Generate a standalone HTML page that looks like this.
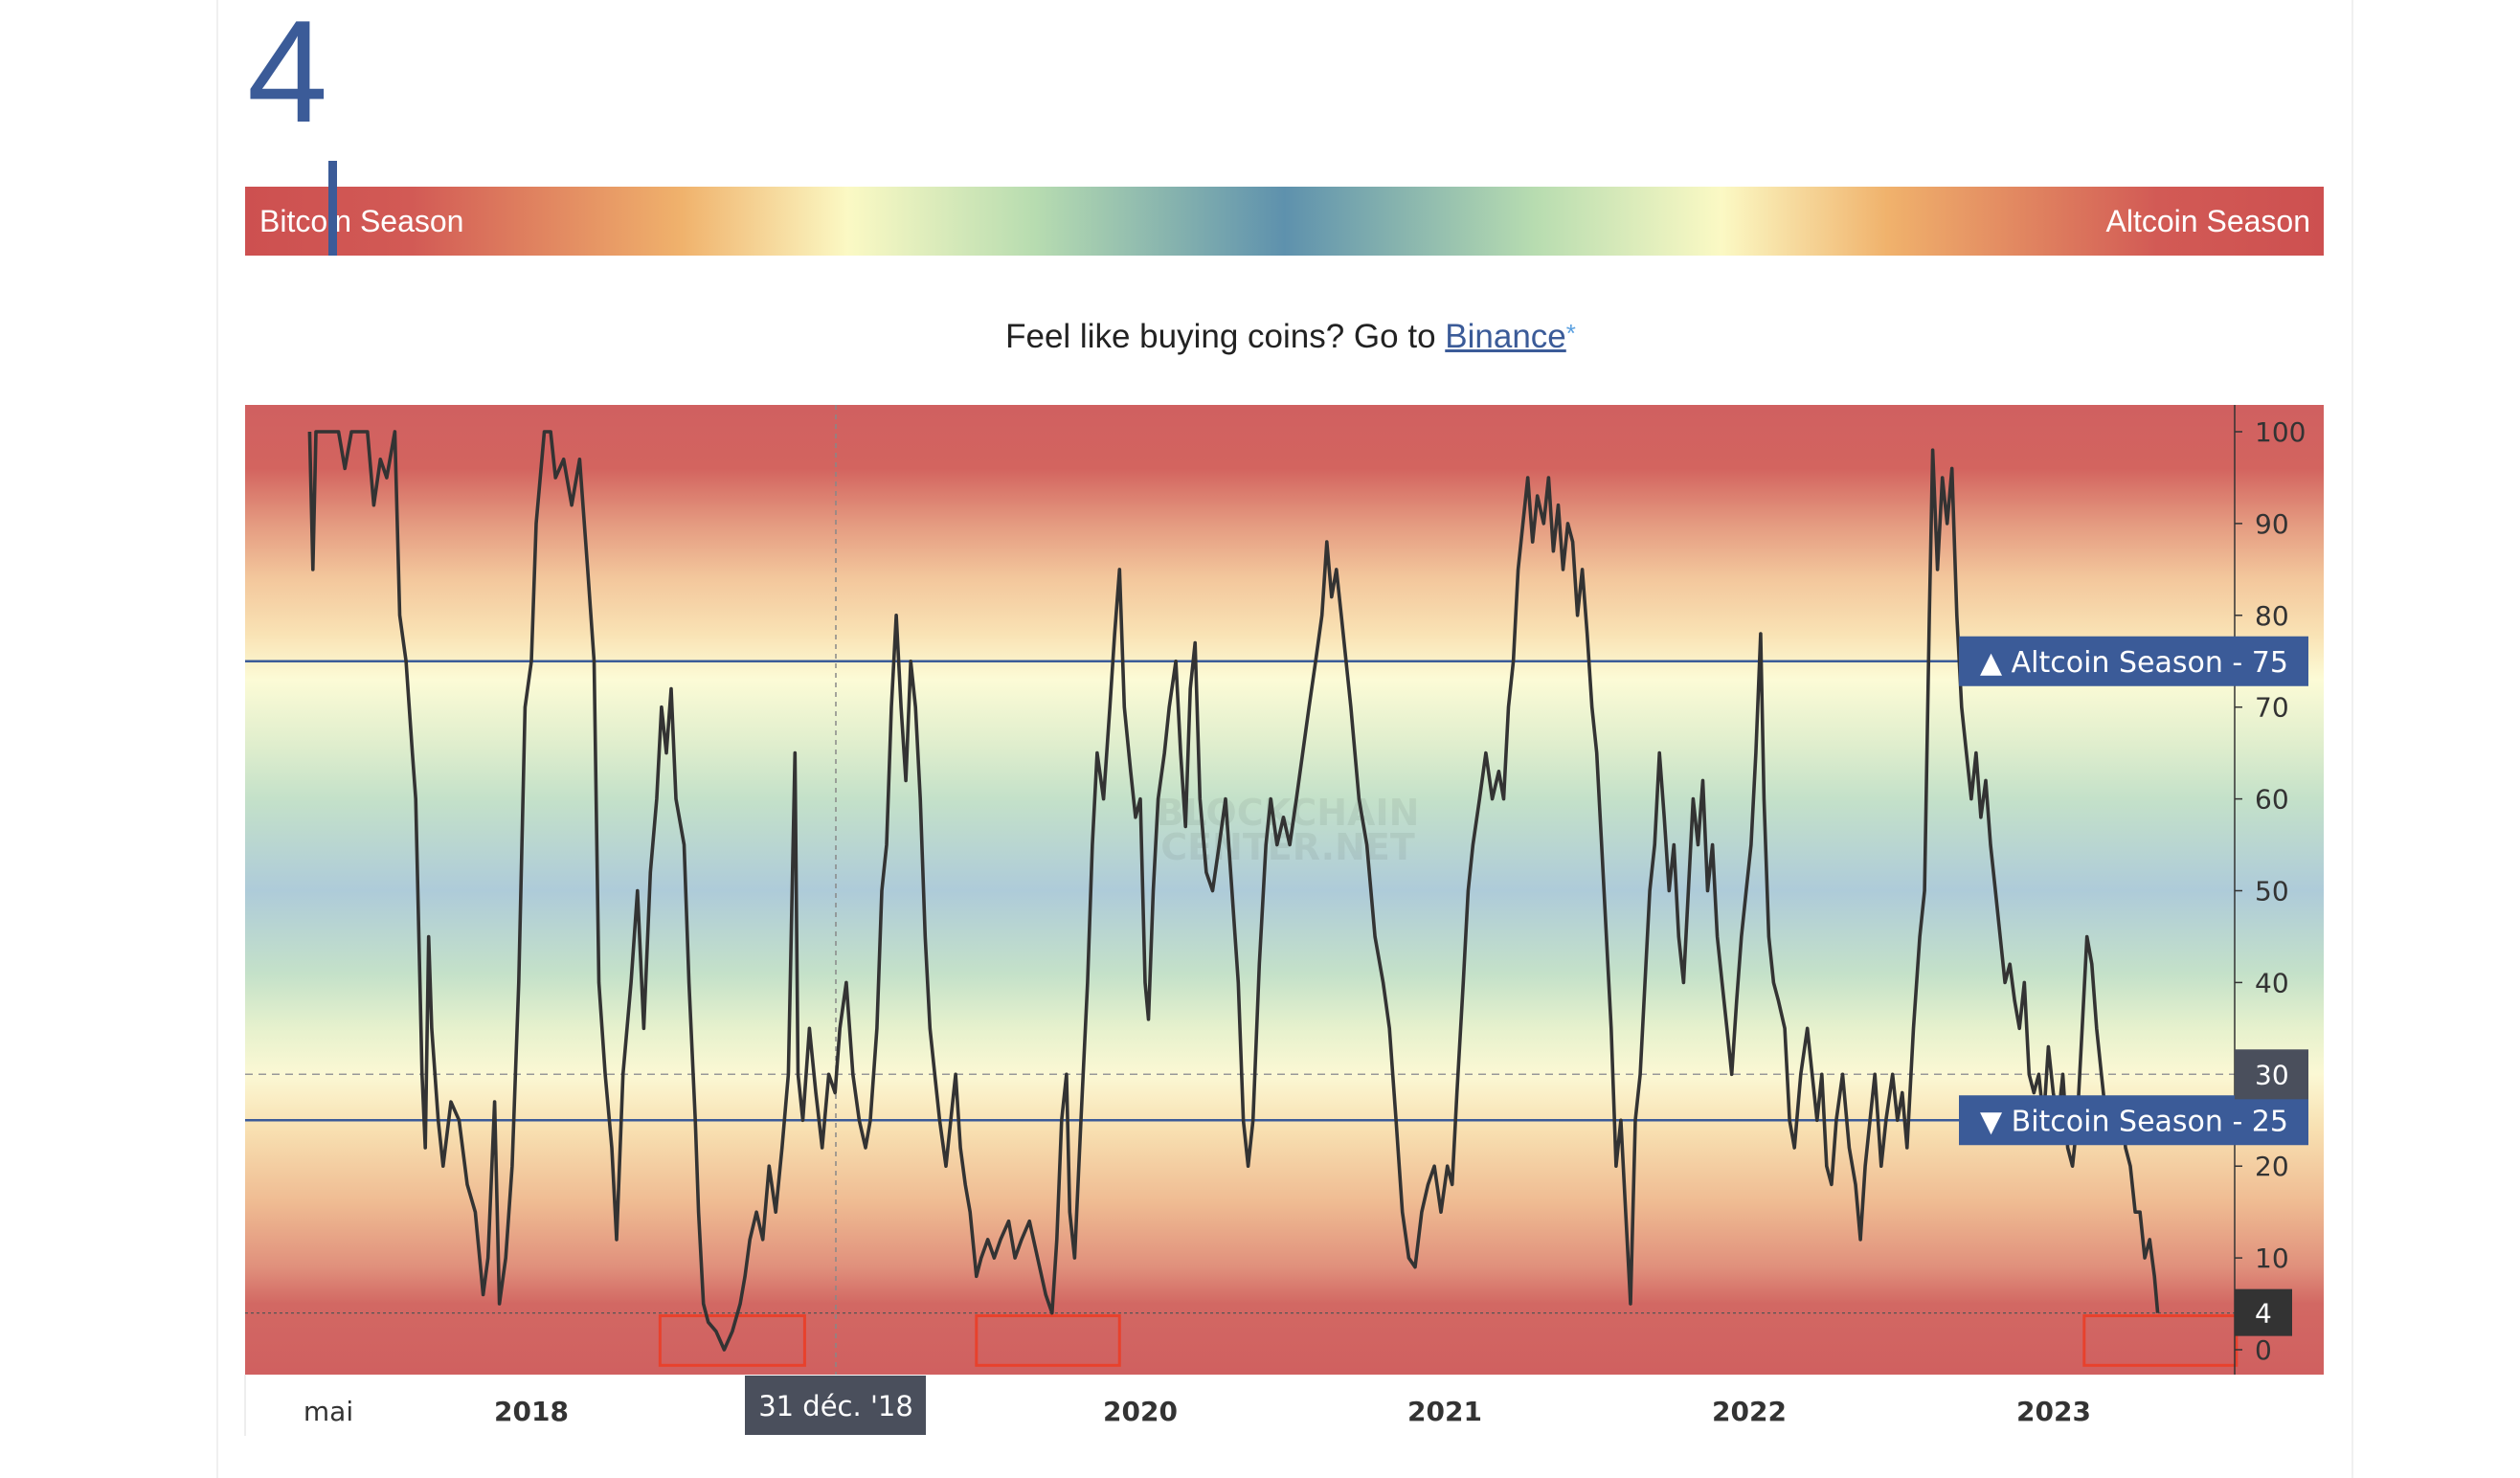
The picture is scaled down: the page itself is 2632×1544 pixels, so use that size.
<!DOCTYPE html>
<html><head><meta charset="utf-8">
<style>
html,body{margin:0;padding:0;background:#fff;}
body{width:2632px;height:1544px;position:relative;overflow:hidden;font-family:"Liberation Sans",sans-serif;}
.edge{position:absolute;top:0;width:2px;height:1544px;background:#f0f0f0;}
#big{position:absolute;left:258px;top:-1px;font-size:152px;color:#3b5b98;line-height:1;}
#bar{position:absolute;left:256px;top:195px;width:2171px;height:72px;
background:linear-gradient(to right,#cd5050 0%,#d25a55 8%,#f0b26c 21%,#fbf9c4 29%,#b7dcb0 38%,#5e91ad 50%,#b7dcb0 62%,#fbf9c4 71%,#f0b26c 79%,#d25a55 92%,#cd5050 100%);}
#bar span{position:absolute;top:18px;color:#fff;font-size:32px;}
#marker{position:absolute;left:343px;top:168px;width:9px;height:99px;background:#3b5b98;}
#promo{position:absolute;left:0;width:2696px;top:332px;text-align:center;font-size:35px;color:#222;}
#promo a{color:#3b5b98;text-decoration:underline;}
#promo sup{color:#5aa0e0;font-size:26px;vertical-align:6px;}
svg{position:absolute;left:0;top:0;}
</style></head>
<body>
<div class="edge" style="left:226px"></div>
<div class="edge" style="left:2456px"></div>
<div id="big">4</div>
<div id="bar">
  <span style="left:15px">Bitcoin Season</span>
  <span style="right:14px">Altcoin Season</span>
</div>
<div id="marker"></div>
<div id="promo">Feel like buying coins? Go to <a>Binance</a><sup>*</sup></div>

<svg id="chart" width="2632" height="1544"></svg>

<script>
// months since Jan 2017
const months=[3.26,3.39,3.51,4.40,4.65,4.91,5.54,5.79,6.05,6.30,6.62,6.81,7.06,7.31,7.44,7.69,7.82,7.95,8.07,8.33,8.52,8.83,9.15,9.47,9.79,10.10,10.29,10.55,10.74,10.99,11.24,11.50,11.75,12.00,12.19,12.51,12.76,12.95,13.27,13.59,13.90,14.22,14.47,14.66,14.91,15.17,15.36,15.61,15.93,16.18,16.43,16.69,16.94,17.13,17.32,17.51,17.70,18.02,18.21,18.46,18.59,18.78,18.97,19.28,19.60,19.92,20.23,20.42,20.61,20.87,21.12,21.37,21.63,21.88,22.13,22.39,22.51,22.70,22.96,23.21,23.46,23.72,23.97,24.16,24.41,24.67,24.92,25.17,25.36,25.62,25.81,26.00,26.19,26.38,26.57,26.76,26.95,27.14,27.33,27.52,27.71,27.90,28.09,28.34,28.53,28.72,28.91,29.10,29.29,29.54,29.73,29.99,30.24,30.49,30.81,31.06,31.32,31.63,31.95,32.27,32.52,32.71,32.90,33.09,33.22,33.41,33.66,33.92,34.11,34.30,34.55,34.80,34.99,35.18,35.37,35.62,35.81,36.00,36.19,36.32,36.51,36.70,36.95,37.14,37.40,37.59,37.78,37.97,38.16,38.35,38.60,38.85,39.11,39.36,39.61,39.86,40.06,40.25,40.44,40.69,40.95,41.14,41.39,41.64,41.89,42.15,42.40,42.65,42.91,43.16,43.35,43.54,43.73,43.92,44.11,44.30,44.62,44.93,45.25,45.57,45.82,46.08,46.33,46.58,46.83,47.09,47.34,47.59,47.85,48.10,48.29,48.48,48.73,48.92,49.11,49.37,49.62,49.87,50.13,50.32,50.51,50.70,50.89,51.08,51.27,51.46,51.65,51.90,52.09,52.28,52.47,52.66,52.85,53.04,53.23,53.42,53.61,53.80,53.99,54.18,54.37,54.56,54.75,54.94,55.13,55.32,55.51,55.70,55.89,56.08,56.27,56.46,56.65,56.84,57.03,57.22,57.41,57.60,57.79,57.98,58.17,58.36,58.55,58.74,58.93,59.12,59.31,59.50,59.69,59.88,60.07,60.26,60.45,60.58,60.77,60.96,61.15,61.40,61.59,61.78,62.03,62.29,62.48,62.67,62.86,63.05,63.24,63.43,63.68,63.94,64.19,64.38,64.57,64.76,64.95,65.20,65.39,65.65,65.84,66.03,66.22,66.47,66.72,66.91,67.10,67.23,67.42,67.61,67.80,67.99,68.18,68.37,68.56,68.75,68.94,69.13,69.32,69.51,69.70,69.89,70.08,70.27,70.46,70.65,70.84,71.03,71.22,71.41,71.60,71.79,71.98,72.17,72.36,72.55,72.74,72.93,73.12,73.31,73.50,73.69,73.88,74.07,74.26,74.45,74.64,74.83,75.02,75.21,75.40,75.59,75.78,75.97,76.10];
const values=[100,85,100,100,96,100,100,92,97,95,100,80,75,65,60,30,22,45,35,25,20,27,25,18,15,6,10,27,5,10,20,40,70,75,90,100,100,95,97,92,97,85,75,40,30,22,12,30,40,50,35,52,60,70,65,72,60,55,40,25,15,5,3,2,0,2,5,8,12,15,12,20,15,22,30,65,30,25,35,28,22,30,28,35,40,30,25,22,25,35,50,55,70,80,70,62,75,70,60,45,35,30,25,20,25,30,22,18,15,8,10,12,10,12,14,10,12,14,10,6,4,12,25,30,15,10,25,40,55,65,60,70,78,85,70,63,58,60,40,36,50,60,65,70,75,65,57,72,77,60,52,50,55,60,50,40,25,20,25,42,55,60,55,58,55,60,65,70,75,80,88,82,85,80,75,70,60,55,45,40,35,25,15,10,9,15,18,20,15,20,18,28,40,50,55,60,65,60,63,60,70,75,85,90,95,88,93,90,95,87,92,85,90,88,80,85,78,70,65,55,45,35,20,25,15,5,25,30,40,50,55,65,58,50,55,45,40,50,60,55,62,50,55,45,40,35,30,38,45,50,55,65,78,60,45,40,38,35,25,22,30,35,30,25,30,20,18,25,30,22,18,12,20,25,30,20,25,30,25,28,22,35,45,50,80,98,85,95,90,96,80,70,65,60,65,58,62,55,50,45,40,42,38,35,40,30,28,30,25,33,28,25,30,22,20,25,35,45,42,35,30,25,27,25,27,22,20,15,15,10,12,8,4];
const yTicks=[0,10,20,30,40,50,60,70,80,90,100];
const xTickMonths=[4,12,36,48,60,72];
const xTickLabels=["mai","2018","2020","2021","2022","2023"];
const zoneStarts=[17.07,29.54,73.2];
const zoneEnds=[22.77,35.18,79.2];
const thresholds=[75,25];
const thresholdLabels=["\u25B2 Altcoin Season","\u25BC Bitcoin Season"];
const crosshairMonth=24;
const crosshairLabel="31 d\u00e9c. '18";
const currentValue=4;
const hoverValue=30;

const NS="http://www.w3.org/2000/svg";
const svg=document.getElementById('chart');
const L=256,R=2427,AX=2334,T=423,B=1436;
const xS=m=>237+m*26.5;
const yS=v=>1410-v*9.59;
function mk(tag,attrs,parent){const e=document.createElementNS(NS,tag);for(const k in attrs)e.setAttribute(k,attrs[k]);(parent||svg).appendChild(e);return e;}

const defs=mk('defs',{});
const lg=mk('linearGradient',{id:'bg',gradientUnits:'userSpaceOnUse',x1:0,x2:0,y1:T,y2:B},defs);
const stops=[[103,'#d06060'],[96,'#d3645f'],[90,'#e49a80'],[84,'#f3c79c'],[78,'#f9e2b4'],[73,'#fcfbd6'],[66,'#e0eecd'],[60,'#c4e1c9'],[50,'#aecbd9'],[41,'#c4e1c9'],[35,'#e6f1cd'],[30,'#fbf8d4'],[24,'#f8e0b1'],[16,'#efbb92'],[9,'#e0907c'],[5,'#d26863'],[-3,'#d06060']];
stops.forEach(s=>mk('stop',{offset:((yS(s[0])-T)/(B-T)).toFixed(4),'stop-color':s[1]},lg));
const bg=mk('rect',{x:L,y:T,width:R-L,height:B-T,fill:'url(#bg)'});



const wm=mk('text',{x:1345,y:862,'text-anchor':'middle','font-family':'DejaVu Sans, sans-serif','font-size':38,'font-weight':'bold',fill:'rgba(0,0,0,0.06)'});
wm.textContent='BLOCKCHAIN';


const wm2=mk('text',{x:1345,y:898,'text-anchor':'middle','font-family':'DejaVu Sans, sans-serif','font-size':38,'font-weight':'bold',fill:'rgba(0,0,0,0.06)'});
wm2.textContent='CENTER.NET';



const ch=mk('line',{x1:xS(crosshairMonth),x2:xS(crosshairMonth),y1:T,y2:B,stroke:'#888','stroke-width':1.5,'stroke-dasharray':'5 5'});


const chh=mk('line',{x1:L,x2:AX,y1:yS(hoverValue),y2:yS(hoverValue),stroke:'#999','stroke-width':1.5,'stroke-dasharray':'8 6'});


const cv=mk('line',{x1:L,x2:AX,y1:yS(currentValue),y2:yS(currentValue),stroke:'#555','stroke-width':1.2,'stroke-dasharray':'3 3'});



thresholds.forEach((t,i)=>{
  const ln=mk('line',{x1:L,x2:AX,y1:yS(t),y2:yS(t),stroke:'#3b5b98','stroke-width':2.5});
  
  
});

zoneStarts.forEach((s,i)=>{
  const r=mk('rect',{x:xS(s),y:yS(3.7),width:xS(zoneEnds[i])-xS(s),height:yS(-1.7)-yS(3.7),fill:'none',stroke:'#e8412c','stroke-width':3});
  
  
});

let d='';
months.forEach((m,i)=>{d+=(i?'L':'M')+xS(m).toFixed(1)+' '+yS(values[i]).toFixed(1);});
const path=mk('path',{d:d,fill:'none',stroke:'#333','stroke-width':3.6,'stroke-linejoin':'round'});



const ax=mk('line',{x1:AX,x2:AX,y1:T,y2:B,stroke:'#333','stroke-width':1.5});


yTicks.forEach(v=>{
  const tk=mk('line',{x1:AX,x2:AX+8,y1:yS(v),y2:yS(v),stroke:'#333','stroke-width':1.5});
  
  
  const tx=mk('text',{x:2355,y:yS(v)+10,'font-family':'DejaVu Sans, sans-serif','font-size':28,fill:'#333'});
  tx.textContent=v;
  
  
});

thresholds.forEach((t,i)=>{
  const bx=mk('rect',{x:2046,y:yS(t)-26,width:365,height:52,fill:'#3b5b98'});
  
  
  const tx=mk('text',{x:2068,y:yS(t)+11,'font-family':'DejaVu Sans, sans-serif','font-size':30,fill:'#fff'});
  tx.textContent=thresholdLabels[i]+'  - '+t;
  
  
});

const hb=mk('rect',{x:AX,y:yS(hoverValue)-26,width:77,height:52,fill:'#4a4f5c'});


const ht=mk('text',{x:2355,y:yS(hoverValue)+10,'font-family':'DejaVu Sans, sans-serif','font-size':28,fill:'#fff'});
ht.textContent=hoverValue;


const cb=mk('rect',{x:AX,y:yS(currentValue)-25,width:60,height:49,fill:'#333'});


const ct=mk('text',{x:2355,y:yS(currentValue)+10,'font-family':'DejaVu Sans, sans-serif','font-size':28,fill:'#fff'});
ct.textContent=currentValue;



const xl=mk('line',{x1:L,x2:L,y1:B,y2:1500,stroke:'#eee','stroke-width':2});


xTickMonths.forEach((m,i)=>{
  const tx=mk('text',{x:xS(m),y:1484,'text-anchor':'middle','font-family':'DejaVu Sans, sans-serif','font-size':28,'font-weight':i===0?'normal':'bold',fill:'#333'});
  tx.textContent=xTickLabels[i];
  
  
});
const tb=mk('rect',{x:xS(crosshairMonth)-95,y:1437,width:189,height:62,fill:'#4a4f5c'});


const tt=mk('text',{x:xS(crosshairMonth),y:1479,'text-anchor':'middle','font-family':'DejaVu Sans, sans-serif','font-size':29,fill:'#fff'});
tt.textContent=crosshairLabel;


</script>
</body></html>
